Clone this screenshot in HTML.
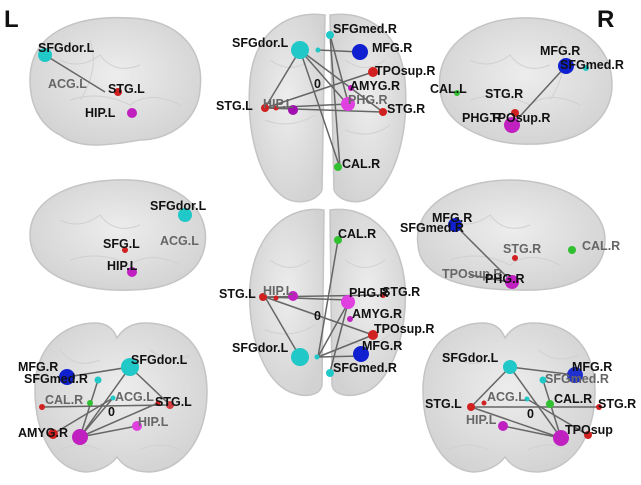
<!DOCTYPE html>
<html><head><style>
body{margin:0;background:#fff}
svg text{font-family:"Liberation Sans",sans-serif;font-size:12.5px;font-weight:bold;fill:#111}
.g{fill:#666}
</style></head><body>
<svg width="641" height="480" viewBox="0 0 641 480" xmlns="http://www.w3.org/2000/svg">
<defs>
<radialGradient id="b" cx="50%" cy="45%" r="60%"><stop offset="0" stop-color="#ededed"/><stop offset="1" stop-color="#d2d2d2"/></radialGradient>
</defs>
<g fill="url(#b)" stroke="#c4c4c4" stroke-width="1.5">
<path d="M30 80 C30 30 80 15 130 18 C180 20 205 50 200 90 C198 120 170 140 140 140 C110 145 80 150 60 135 C40 125 30 105 30 80Z"/>
<path d="M440 90 C435 50 470 20 520 18 C570 16 612 40 612 85 C612 110 595 130 570 138 C540 148 500 145 480 135 C455 125 442 110 440 90Z"/>
<path d="M30 235 C30 195 80 178 130 180 C180 182 210 210 205 245 C200 275 170 290 130 290 C90 292 30 280 30 235Z"/>
<path d="M418 245 C412 205 460 180 510 180 C560 180 605 205 605 240 C605 275 570 292 520 290 C470 290 420 280 418 245Z"/>
<path id="fr" d="M35 390 C35 345 65 323 95 323 C108 323 114 330 117 338 C122 330 130 323 145 323 C185 323 207 350 207 392 C207 435 185 470 150 472 C130 472 122 464 117 457 C112 464 100 472 85 472 C55 470 35 435 35 390Z"/>
<path transform="translate(388,0)" d="M35 390 C35 345 65 323 95 323 C108 323 114 330 117 338 C122 330 130 323 145 323 C185 323 207 350 207 392 C207 435 185 470 150 472 C130 472 122 464 117 457 C112 464 100 472 85 472 C55 470 35 435 35 390Z"/>
<path d="M325 15 C290 10 255 30 250 80 C246 130 258 180 285 198 C300 206 318 200 322 190 Z"/>
<path d="M330 15 C365 10 400 30 405 80 C409 130 397 180 370 198 C355 206 338 200 334 190 Z"/>
<path d="M324 210 C290 205 255 230 250 285 C247 330 262 380 290 392 C305 398 320 396 322 385 Z"/>
<path d="M330 210 C365 205 400 230 405 285 C408 330 393 380 366 392 C350 398 334 396 332 385 Z"/>
</g>
<g stroke="#d0d0d0" stroke-width="1" fill="none">
<path d="M60 60 q20 10 40 -5 q15 20 40 10 M70 100 q30 -10 60 5 q20 -15 50 0 M90 40 q10 30 -10 60"/>
<path d="M470 60 q20 10 40 -5 q15 20 40 10 M470 100 q30 -10 60 5 q20 -15 50 0 M560 40 q10 30 -10 60"/>
<path d="M60 220 q20 10 40 -5 q15 20 40 10 M70 260 q30 -10 60 5 q20 -15 50 0"/>
<path d="M450 220 q20 10 40 -5 q15 20 40 10 M450 260 q30 -10 60 5 q20 -15 50 0"/>
<path d="M270 60 q20 15 40 0 M265 120 q25 10 50 -5 M345 60 q20 15 40 0 M345 130 q25 10 45 -5"/>
<path d="M270 260 q20 15 40 0 M265 330 q25 10 50 -5 M345 260 q20 15 40 0 M345 340 q25 10 45 -5"/>
<path d="M60 350 q15 20 40 10 M150 350 q20 15 40 5 M60 450 q20 -10 40 0 M140 450 q20 -10 40 0"/>
<path d="M448 350 q15 20 40 10 M538 350 q20 15 40 5 M448 450 q20 -10 40 0 M528 450 q20 -10 40 0"/>
</g>
<g stroke="#666" stroke-width="1.5" fill="none">
<line x1="300" y1="50" x2="348" y2="105"/><line x1="300" y1="50" x2="265" y2="108"/><line x1="300" y1="50" x2="383" y2="112"/><line x1="318" y1="50" x2="360" y2="52"/><line x1="330" y1="35" x2="340" y2="168"/><line x1="330" y1="35" x2="348" y2="102"/><line x1="265" y1="108" x2="373" y2="72"/><line x1="265" y1="108" x2="383" y2="112"/><line x1="265" y1="108" x2="348" y2="104"/><line x1="300" y1="50" x2="340" y2="168"/>
<line x1="45" y1="55" x2="105" y2="92"/>
<line x1="566" y1="66" x2="512" y2="125"/>
<line x1="318" y1="357" x2="348" y2="303"/><line x1="300" y1="357" x2="265" y2="297"/><line x1="318" y1="357" x2="373" y2="335"/><line x1="318" y1="357" x2="338" y2="240"/><line x1="265" y1="297" x2="373" y2="335"/><line x1="265" y1="297" x2="383" y2="295"/><line x1="265" y1="297" x2="348" y2="300"/><line x1="330" y1="372" x2="348" y2="303"/><line x1="318" y1="357" x2="361" y2="356"/>
<line x1="130" y1="367" x2="80" y2="437"/><line x1="130" y1="367" x2="170" y2="405"/><line x1="130" y1="367" x2="67" y2="377"/><line x1="98" y1="380" x2="80" y2="437"/><line x1="80" y1="437" x2="137" y2="426"/><line x1="42" y1="407" x2="170" y2="405"/><line x1="80" y1="437" x2="158" y2="403"/><line x1="53" y1="434" x2="113" y2="398"/><line x1="80" y1="437" x2="113" y2="398"/>
<line x1="510" y1="367" x2="561" y2="438"/><line x1="510" y1="367" x2="575" y2="375"/><line x1="510" y1="367" x2="471" y2="407"/><line x1="471" y1="407" x2="599" y2="407"/><line x1="471" y1="407" x2="561" y2="438"/><line x1="503" y1="426" x2="561" y2="438"/><line x1="543" y1="380" x2="561" y2="438"/><line x1="527" y1="399" x2="588" y2="435"/>
<line x1="455" y1="225" x2="510" y2="280"/><line x1="470" y1="275" x2="510" y2="282"/>
</g>
<g stroke="none">
<circle cx="300" cy="50" r="9" fill="#20c8c8"/><circle cx="330" cy="35" r="4" fill="#20c8c8"/><circle cx="318" cy="50" r="2.5" fill="#20c8c8"/><circle cx="360" cy="52" r="8" fill="#1020d0"/><circle cx="373" cy="72" r="5" fill="#d02020"/><circle cx="351" cy="88" r="3" fill="#c010c0"/><circle cx="348" cy="104" r="7" fill="#e040e0"/><circle cx="383" cy="112" r="4" fill="#d02020"/><circle cx="265" cy="108" r="4" fill="#d02020"/><circle cx="276" cy="108" r="2.5" fill="#d02020"/><circle cx="293" cy="110" r="5" fill="#a010b0"/><circle cx="338" cy="167" r="4" fill="#30c030"/>
<circle cx="45" cy="55" r="7" fill="#20c8c8"/><circle cx="118" cy="92" r="4" fill="#d02020"/><circle cx="132" cy="113" r="5" fill="#c020c0"/>
<circle cx="566" cy="66" r="8" fill="#1020d0"/><circle cx="586" cy="68" r="3" fill="#20c8c8"/><circle cx="457" cy="93" r="3" fill="#30c030"/><circle cx="515" cy="113" r="4" fill="#d02020"/><circle cx="512" cy="125" r="8" fill="#c020c0"/>
<circle cx="185" cy="215" r="7" fill="#20c8c8"/><circle cx="125" cy="250" r="3" fill="#d02020"/><circle cx="132" cy="272" r="5" fill="#c020c0"/>
<circle cx="455" cy="225" r="7" fill="#1020d0"/><circle cx="572" cy="250" r="4" fill="#30c030"/><circle cx="512" cy="282" r="7" fill="#c020c0"/><circle cx="515" cy="258" r="3" fill="#d02020"/>
<circle cx="338" cy="240" r="4" fill="#30c030"/><circle cx="348" cy="302" r="7" fill="#e040e0"/><circle cx="383" cy="295" r="3" fill="#d02020"/><circle cx="350" cy="319" r="3" fill="#c020c0"/><circle cx="373" cy="335" r="5" fill="#d02020"/><circle cx="361" cy="354" r="8" fill="#1020d0"/><circle cx="300" cy="357" r="9" fill="#20c8c8"/><circle cx="317" cy="357" r="2.5" fill="#20c8c8"/><circle cx="330" cy="373" r="4" fill="#20c8c8"/><circle cx="263" cy="297" r="4" fill="#d02020"/><circle cx="276" cy="298" r="2.5" fill="#d02020"/><circle cx="293" cy="296" r="5" fill="#c020c0"/>
<circle cx="130" cy="367" r="9" fill="#20c8c8"/><circle cx="67" cy="377" r="8" fill="#1020d0"/><circle cx="98" cy="380" r="3.5" fill="#20c8c8"/><circle cx="90" cy="403" r="3" fill="#30c030"/><circle cx="113" cy="398" r="2.5" fill="#20c8c8"/><circle cx="42" cy="407" r="3" fill="#d02020"/><circle cx="158" cy="403" r="2.5" fill="#d02020"/><circle cx="170" cy="405" r="4" fill="#d04040"/><circle cx="53" cy="434" r="5" fill="#d02020"/><circle cx="80" cy="437" r="8" fill="#c020c0"/><circle cx="137" cy="426" r="5" fill="#e040e0"/>
<circle cx="510" cy="367" r="7" fill="#20c8c8"/><circle cx="575" cy="375" r="8" fill="#2030d0"/><circle cx="543" cy="380" r="3.5" fill="#20c8c8"/><circle cx="550" cy="404" r="4" fill="#30c030"/><circle cx="599" cy="407" r="3" fill="#d02020"/><circle cx="471" cy="407" r="4" fill="#d02020"/><circle cx="484" cy="403" r="2.5" fill="#d02020"/><circle cx="527" cy="399" r="2.5" fill="#20c8c8"/><circle cx="503" cy="426" r="5" fill="#c020c0"/><circle cx="561" cy="438" r="8" fill="#c020c0"/><circle cx="588" cy="435" r="4" fill="#d02020"/>
</g>
<text x="4" y="27" style="font-size:24px;font-weight:bold">L</text>
<text x="597" y="27" style="font-size:24px;font-weight:bold">R</text>
<text x="38" y="52">SFGdor.L</text><text x="48" y="88" class="g">ACG.L</text><text x="108" y="93">STG.L</text><text x="85" y="117">HIP.L</text>
<text x="232" y="47">SFGdor.L</text><text x="333" y="33">SFGmed.R</text><text x="372" y="52">MFG.R</text><text x="375" y="75">TPOsup.R</text><text x="350" y="90">AMYG.R</text><text x="348" y="104" class="g">PHG.R</text><text x="387" y="113">STG.R</text><text x="216" y="110">STG.L</text><text x="263" y="108" class="g">HIP.L</text><text x="342" y="168">CAL.R</text><text x="314" y="88">0</text>
<text x="540" y="55">MFG.R</text><text x="560" y="69">SFGmed.R</text><text x="430" y="93">CAL.L</text><text x="485" y="98">STG.R</text><text x="462" y="122">PHG.R</text><text x="490" y="122">TPOsup.R</text>
<text x="150" y="210">SFGdor.L</text><text x="160" y="245" class="g">ACG.L</text><text x="103" y="248">SFG.L</text><text x="107" y="270">HIP.L</text>
<text x="432" y="222">MFG.R</text><text x="400" y="232">SFGmed.R</text><text x="503" y="253" class="g">STG.R</text><text x="582" y="250" class="g">CAL.R</text><text x="442" y="278" class="g">TPOsup.R</text><text x="485" y="283">PHG.R</text>
<text x="338" y="238">CAL.R</text><text x="349" y="297">PHG.R</text><text x="382" y="296">STG.R</text><text x="352" y="318">AMYG.R</text><text x="374" y="333">TPOsup.R</text><text x="362" y="350">MFG.R</text><text x="333" y="372">SFGmed.R</text><text x="232" y="352">SFGdor.L</text><text x="219" y="298">STG.L</text><text x="263" y="295" class="g">HIP.L</text><text x="314" y="320">0</text>
<text x="131" y="364">SFGdor.L</text><text x="18" y="371">MFG.R</text><text x="24" y="383">SFGmed.R</text><text x="115" y="401" class="g">ACG.L</text><text x="45" y="404" class="g">CAL.R</text><text x="155" y="406">STG.L</text><text x="138" y="426" class="g">HIP.L</text><text x="18" y="437">AMYG.R</text><text x="108" y="416">0</text>
<text x="442" y="362">SFGdor.L</text><text x="572" y="371">MFG.R</text><text x="545" y="383" class="g">SFGmed.R</text><text x="487" y="401" class="g">ACG.L</text><text x="554" y="403">CAL.R</text><text x="598" y="408">STG.R</text><text x="425" y="408">STG.L</text><text x="466" y="424" class="g">HIP.L</text><text x="565" y="434">TPOsup</text><text x="527" y="418">0</text>
</svg>
</body></html>
